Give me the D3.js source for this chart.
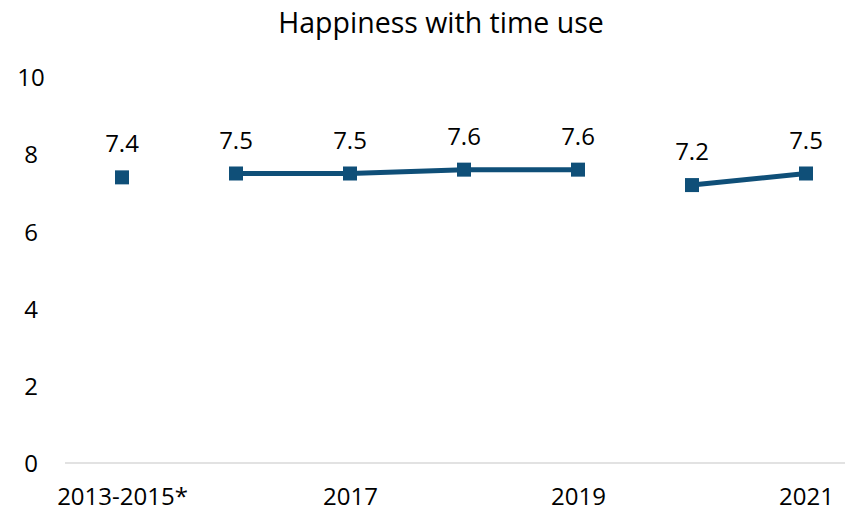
<!DOCTYPE html>
<html>
<head>
<meta charset="utf-8">
<script src="https://cdn.jsdelivr.net/npm/d3@7"></script>
<style>
  body { margin: 0; background: #fff; }
  text { font-family: "Open Sans", "Liberation Sans", sans-serif; fill: #000; }
</style>
</head>
<body>
<div class="chart"></div>
<script>
// data
var years = ["2013-2015*", "2016", "2017", "2018", "2019", "2020", "2021"];
var happiness = [7.4, 7.5, 7.5, 7.6, 7.6, 7.2, 7.5];
// which points get joined to the next one (gaps after 2013-2015 and 2019)
var segments = [[1, 2, 3, 4], [5, 6]];
var shownLabels = ["2013-2015*", "2017", "2019", "2021"];
var yTicks = [0, 2, 4, 6, 8, 10];

var width = 850, height = 514;
var color = "#0f4f78";

var svg = d3.select(".chart")
    .append("svg")
    .attr("width", width)
    .attr("height", height);

var x = d3.scalePoint()
    .domain(years)
    .range([122, 806]);

var y = d3.scaleLinear()
    .domain([0, 10])
    .range([463, 77]);

// title
svg.append("text")
    .attr("x", 441)
    .attr("y", 33)
    .attr("text-anchor", "middle")
    .style("font-size", "28.5px")
    .text("Happiness with time use");

// y axis labels only, no line
var yAxis = d3.axisLeft(y).tickValues(yTicks).tickSize(0).tickPadding(0);
var gy = svg.append("g")
    .attr("transform", "translate(31,0)")
    .call(yAxis);
gy.select(".domain").remove();
gy.selectAll("text")
    .attr("text-anchor", "middle")
    .attr("dy", "0.36em")
    .style("font-size", "24px")
    .style("font-family", "'Open Sans', sans-serif")
    .attr("fill", "#000");

// baseline
svg.append("line")
    .attr("x1", 65)
    .attr("x2", 845)
    .attr("y1", y(0))
    .attr("y2", y(0))
    .attr("stroke", "#d9d9d9")
    .attr("stroke-width", 1.5);

// x axis labels
var xAxis = d3.axisBottom(x).tickValues(shownLabels).tickSize(0).tickPadding(0);
var gx = svg.append("g")
    .attr("transform", "translate(0,505)")
    .call(xAxis);
gx.select(".domain").remove();
gx.selectAll("text")
    .attr("dy", "0")
    .style("font-size", "24px")
    .style("font-family", "'Open Sans', sans-serif")
    .attr("fill", "#000");

// line segments
var line = d3.line()
    .x(function (i) { return x(years[i]); })
    .y(function (i) { return y(happiness[i]); });

svg.selectAll("path.seg")
    .data(segments)
    .enter()
    .append("path")
    .attr("class", "seg")
    .attr("d", line)
    .attr("fill", "none")
    .attr("stroke", color)
    .attr("stroke-width", 5);

// markers
var m = 14;
svg.selectAll("rect.mark")
    .data(happiness)
    .enter()
    .append("rect")
    .attr("class", "mark")
    .attr("x", function (d, i) { return x(years[i]) - m / 2; })
    .attr("y", function (d) { return y(d) - m / 2; })
    .attr("width", m)
    .attr("height", m)
    .attr("fill", color);

// value labels
svg.selectAll("text.val")
    .data(happiness)
    .enter()
    .append("text")
    .attr("class", "val")
    .attr("x", function (d, i) { return x(years[i]); })
    .attr("y", function (d) { return y(d) - 25; })
    .attr("text-anchor", "middle")
    .style("font-size", "24px")
    .text(function (d) { return d.toFixed(1); });
</script>
</body>
</html>
